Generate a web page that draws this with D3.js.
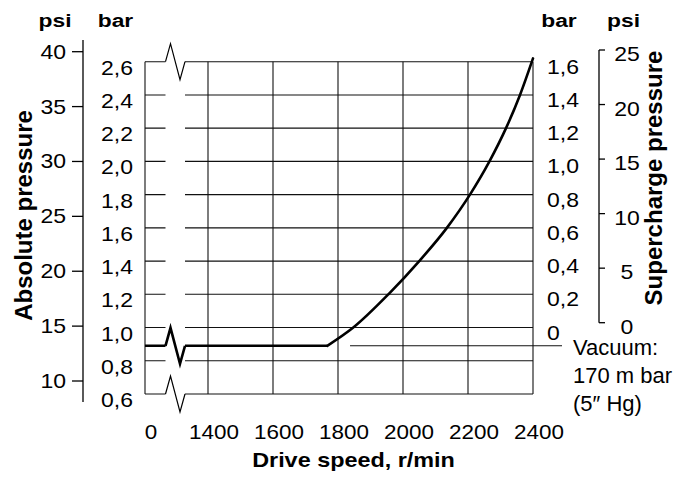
<!DOCTYPE html>
<html><head><meta charset="utf-8">
<script src="https://cdn.jsdelivr.net/npm/d3@7"></script>
<style>
html,body{margin:0;padding:0;background:#fff;}
svg{display:block;font-family:"Liberation Sans",Arial,Helvetica,sans-serif;}
</style></head>
<body>
<svg id="chart" width="694" height="477"></svg>
<script>
// ---- data ----
const speedTicks = [0, 1400, 1600, 1800, 2000, 2200, 2400];
const absBarTicks = [0.6, 0.8, 1.0, 1.2, 1.4, 1.6, 1.8, 2.0, 2.2, 2.4, 2.6];
const gaugeBarTicks = [0, 0.2, 0.4, 0.6, 0.8, 1.0, 1.2, 1.4, 1.6];
const psiAbsTicks = [10, 15, 20, 25, 30, 35, 40];
const psiGaugeTicks = [0, 5, 10, 15, 20, 25];
const speed = [0, 1767, 1847, 1955, 2050, 2135, 2206, 2266, 2317, 2360, 2400];
const absPressure = [0.89, 0.89, 1.0, 1.2, 1.4, 1.6, 1.8, 2.0, 2.2, 2.4, 2.62];
const vacuumLevel = 0.89;
const vacuumLineStart = 1837;
const vacuumText = ["Vacuum:", "170 m bar", "(5\u2033 Hg)"];

// ---- scales ----
const svg = d3.select("#chart");
const x = d3.scaleLinear().domain([0, 1400, 2400]).range([145, 208, 533]);
const y = d3.scaleLinear().domain([0.6, 2.6]).range([394, 61.7]);
const psiL = d3.scaleLinear().domain([10, 40]).range([381, 51.7]);
const psiR = d3.scaleLinear().domain([0, 25]).range([322.7, 50]);
const fmt = d => d3.format(".1f")(d).replace(".", ",");

function txt(x0, y0, s, o) {
  o = o || {};
  return svg.append("text")
    .attr("transform", `translate(${x0},${y0}) rotate(${o.rotate || 0}) scale(${o.sx || 1},1)`)
    .attr("text-anchor", o.anchor || "start")
    .attr("font-size", o.size || 20)
    .attr("font-weight", o.weight || "normal")
    .attr("fill", "#000")
    .text(s);
}

const [x0, x1] = [x(0), x(2400)];
const [yT, yB] = [y(2.6), y(0.6)];

// grid
const grid = svg.append("g").attr("stroke", "#111").attr("stroke-width", 1.1).attr("fill", "none");
absBarTicks.forEach(v => grid.append("line").attr("x1", x0).attr("x2", x1).attr("y1", y(v)).attr("y2", y(v)));
speedTicks.forEach(v => grid.append("line").attr("x1", x(v)).attr("x2", x(v)).attr("y1", yT).attr("y2", yB));

// vacuum reference line
svg.append("line").attr("x1", x(vacuumLineStart)).attr("x2", x1 + 29)
  .attr("y1", y(vacuumLevel)).attr("y2", y(vacuumLevel))
  .attr("stroke", "#111").attr("stroke-width", 1.1);

// data curve: flat part (linear) + rising part (smooth)
const pts = speed.map((s, i) => [s, absPressure[i]]);
const lineLin = d3.line().x(d => x(d[0])).y(d => y(d[1]));
const lineSmooth = d3.line().x(d => x(d[0])).y(d => y(d[1])).curve(d3.curveMonotoneX);
svg.append("path").attr("d", lineLin(pts.slice(0, 2)))
  .attr("fill", "none").attr("stroke", "#000").attr("stroke-width", 2.6);
svg.append("path").attr("d", lineSmooth(pts.slice(1)))
  .attr("fill", "none").attr("stroke", "#000").attr("stroke-width", 2.6).attr("stroke-linecap", "round");

// axis break
const bx = x0 + 20.5, bw = 19.5;
svg.append("rect").attr("x", bx).attr("y", 40).attr("width", bw).attr("height", 380).attr("fill", "#fff");
const zig = [[0, 0], [5, -18], [14.5, 18], [19.5, 0]];
function zigzag(yy, w) {
  svg.append("path").attr("d", d3.line()(zig.map(p => [bx + p[0], yy + p[1]])))
    .attr("fill", "none").attr("stroke", "#000").attr("stroke-width", w).attr("stroke-linejoin", "miter");
}
zigzag(yT, 1.2); zigzag(yB, 1.2); zigzag(y(vacuumLevel), 2.6);

// left psi axis
const ax = svg.append("g").attr("stroke", "#000").attr("stroke-width", 1.3);
ax.append("line").attr("x1", 83).attr("x2", 83).attr("y1", 40).attr("y2", 402);
psiAbsTicks.forEach(v => ax.append("line").attr("x1", 72).attr("x2", 83).attr("y1", psiL(v)).attr("y2", psiL(v)));
psiAbsTicks.forEach(v => txt(66, psiL(v) + 7, v, {anchor: "end", sx: 1.15}));

// right psi axis
ax.append("line").attr("x1", 599).attr("x2", 599).attr("y1", psiR(25)).attr("y2", psiR(0));
psiGaugeTicks.forEach(v => ax.append("line").attr("x1", 599).attr("x2", 605).attr("y1", psiR(v)).attr("y2", psiR(v)));
psiGaugeTicks.forEach(v => txt(627, psiR(v) + 11, v, {anchor: "middle", sx: 1.15}));

// bar labels
absBarTicks.forEach(v => txt(133, y(v) + 13, fmt(v), {anchor: "end", sx: 1.15}));
gaugeBarTicks.forEach(v => txt(547, y(v + 1.0) + 12, v === 0 ? "0" : fmt(v), {anchor: "start", sx: 1.15}));

// bottom labels
speedTicks.forEach(v => txt(x(v) + 6, 439, v, {anchor: "middle", size: 21, sx: 1.07}));

// headers
txt(55, 27, "psi", {anchor: "middle", weight: "bold", size: 19, sx: 1.2});
txt(115.5, 27, "bar", {anchor: "middle", weight: "bold", size: 19, sx: 1.2});
txt(559, 27, "bar", {anchor: "middle", weight: "bold", size: 19, sx: 1.2});
txt(623.5, 27, "psi", {anchor: "middle", weight: "bold", size: 19, sx: 1.2});

// titles
txt(353.5, 467, "Drive speed, r/min", {anchor: "middle", weight: "bold", size: 20, sx: 1.17});
txt(32, 215.5, "Absolute pressure", {anchor: "middle", weight: "bold", size: 24, rotate: -90});
txt(662, 178, "Supercharge pressure", {anchor: "middle", weight: "bold", size: 24, rotate: -90});

// vacuum note
vacuumText.forEach((s, i) => txt(573, 355 + i * 28, s, {size: 22}));
</script>
</body></html>
